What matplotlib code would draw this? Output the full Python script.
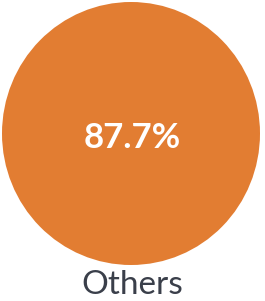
import matplotlib
matplotlib.use("Agg")
import matplotlib.pyplot as plt
from matplotlib.patches import Ellipse

labels = ["Others"]
values = [87.7]
colors = ["#E27D32"]

W, H = 265, 301
fig = plt.figure(figsize=(W / 100, H / 100), dpi=100)
ax = fig.add_axes([0, 0, 1, 1])
ax.set_xlim(0, W)
ax.set_ylim(H, 0)
ax.axis("off")

cx, cy, rx, ry = 131, 133.5, 129, 131.5
ax.add_patch(Ellipse((cx, cy), 2 * rx, 2 * ry, color=colors[0], lw=0))
ax.text(cx + 1, cy + 5, f"{values[0]}%", ha="center", va="center",
        color="white", fontsize=25, fontweight="bold", family="Lato")
ax.text(cx + 1.5, 294.5, labels[0], ha="center", va="baseline",
        color="#3a3f4a", fontsize=24, family="Lato")

fig.savefig("out.png", dpi=100)
